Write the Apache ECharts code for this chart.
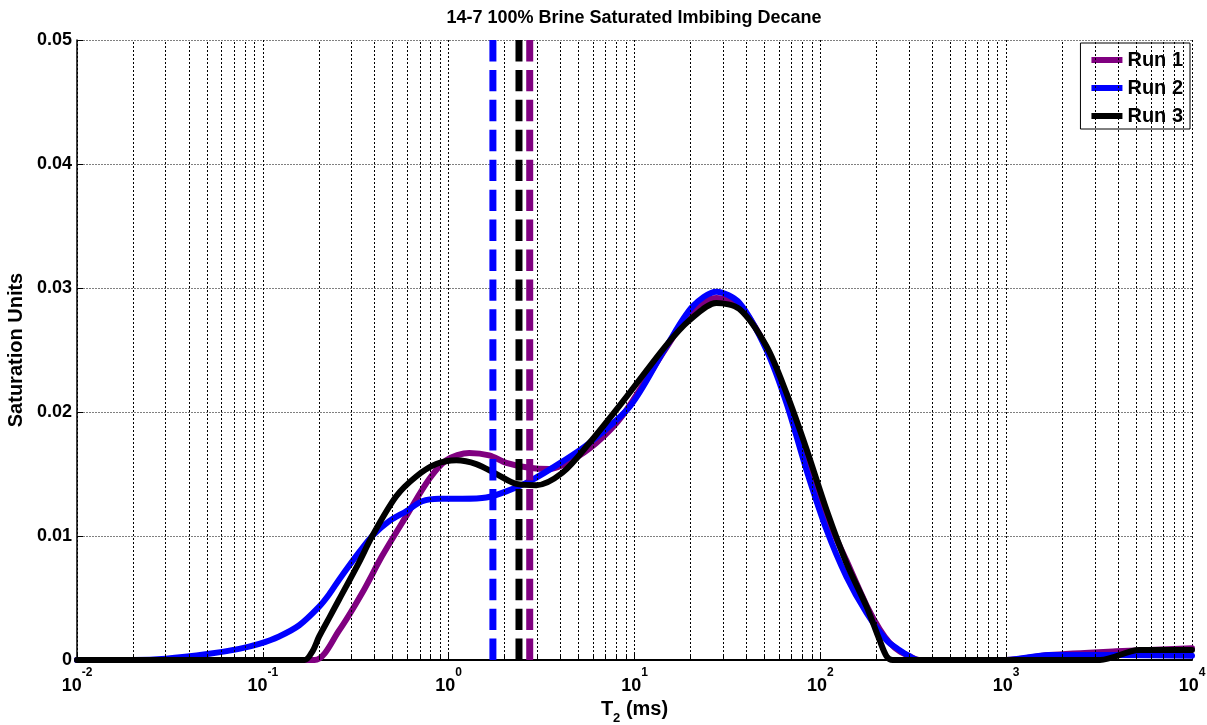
<!DOCTYPE html>
<html>
<head>
<meta charset="utf-8">
<script src="https://cdn.jsdelivr.net/npm/echarts@6/dist/echarts.min.js"></script>
<style>
html,body{margin:0;padding:0;background:#fff;}
#chart{width:1207px;height:725px;}
</style>
</head>
<body>
<div id="chart"></div>
<script>
// ---------------- data ----------------
const chartTitle = '14-7 100% Brine Saturated Imbibing Decane';
const runNames = ['Run 1', 'Run 2', 'Run 3'];
const runColors = ['#800080', '#0000ff', '#000000'];

// Run 1 (purple)
const t2Run1 = [0.01, 0.1, 0.19, 0.2577, 0.3424, 0.4388, 0.591, 0.786, 0.9707, 1.291, 1.654, 2.043, 2.716, 3.481, 4.461, 6.234, 8.605, 14.85, 20.5, 27.6, 36.7, 51.3, 65.8, 84.3, 108, 138.4, 177.4, 208.4, 235.9, 267, 302, 340, 1000, 1700, 3900, 10000];
const ampRun1 = [0, 0, 0, 0.0024, 0.0054, 0.0084, 0.0116, 0.0146, 0.0161, 0.0167, 0.0165, 0.0159, 0.0155, 0.0154, 0.0160, 0.0175, 0.0197, 0.0252, 0.0282, 0.0292, 0.0286, 0.0252, 0.0212, 0.0165, 0.0116, 0.0080, 0.0044, 0.0025, 0.0014, 0.0007, 0.0003, 0, 0, 0.0004, 0.0007, 0.00095];

// Run 2 (blue)
const t2Run2 = [0.01, 0.02, 0.03, 0.0514, 0.0745, 0.0955, 0.1224, 0.157, 0.201, 0.2276, 0.2577, 0.33, 0.3878, 0.4786, 0.591, 0.7207, 0.89, 1.184, 1.594, 2.043, 2.716, 4.09, 5.716, 9.5, 14.85, 20.5, 27.6, 36.7, 51.3, 65.8, 84.3, 108, 138.4, 177.4, 227.3, 267, 302, 340, 1000, 1700, 3900, 10000];
const ampRun2 = [0, 0, 0.0001, 0.0005, 0.0009, 0.0013, 0.0019, 0.0028, 0.0043, 0.0053, 0.0065, 0.0087, 0.0100, 0.0112, 0.0120, 0.0128, 0.0130, 0.0130, 0.0131, 0.0136, 0.0144, 0.0160, 0.0175, 0.0205, 0.0253, 0.0285, 0.0297, 0.0288, 0.0250, 0.0207, 0.0153, 0.0105, 0.0067, 0.0038, 0.0016, 0.0008, 0.0003, 0, 0, 0.0004, 0.0004, 0.00035];

// Run 3 (black)
const t2Run3 = [0.01, 0.1, 0.168, 0.185, 0.201, 0.2276, 0.2577, 0.33, 0.3878, 0.5222, 0.669, 0.8574, 1.099, 1.408, 1.804, 2.312, 2.963, 4.09, 5.716, 8.605, 14.85, 19.75, 27.6, 36.7, 51.3, 65.8, 84.3, 108, 138.4, 177.4, 208.4, 227.3, 245, 1000, 3200, 5200, 10000];
const ampRun3 = [0, 0, 0, 0.0007, 0.0019, 0.0034, 0.0049, 0.0079, 0.0100, 0.0132, 0.0148, 0.0158, 0.0161, 0.0158, 0.0150, 0.0142, 0.0141, 0.0151, 0.0175, 0.0208, 0.0254, 0.0274, 0.0288, 0.0283, 0.0253, 0.0215, 0.0170, 0.0121, 0.0078, 0.0043, 0.0016, 0.0003, 0, 0, 0, 0.0008, 0.0008];

// T2 cutoff (dashed vertical lines) for Run 1, Run 2, Run 3
const t2Cutoffs = [2.73, 1.73, 2.39];

// axis ticks
const xTickExponents = [-2, -1, 0, 1, 2, 3, 4];
const yTickLabels = ['0', '0.01', '0.02', '0.03', '0.04', '0.05'];
const yMin = 0, yMax = 0.05, yStep = 0.01;

// ---------------- chart ----------------
const FONT = "'Liberation Sans', Arial, Helvetica, sans-serif";
const t2Lists = [t2Run1, t2Run2, t2Run3];
const ampLists = [ampRun1, ampRun2, ampRun3];

// minor log gridlines 2..9 x 10^n
const minorT = [];
for (let i = 0; i < xTickExponents.length - 1; i++) {
  for (let m = 2; m <= 9; m++) minorT.push(m * Math.pow(10, xTickExponents[i]));
}

const series = [];
series.push({
  type: 'line', name: 'minorgrid', data: [], z: 1, silent: true,
  markLine: {
    silent: true, symbol: ['none', 'none'], animation: false,
    label: { show: false }, emphasis: { disabled: true },
    lineStyle: { color: '#000', type: [2, 2], width: 1 },
    data: minorT.map(t => ({ xAxis: t }))
  }
});
series.push({
  type: 'line', name: 'minorticks', data: [], z: 1, silent: true,
  markLine: {
    silent: true, symbol: ['none', 'none'], animation: false,
    label: { show: false }, emphasis: { disabled: true },
    lineStyle: { color: '#000', type: 'solid', width: 1 },
    data: minorT.map(t => [{ coord: [t, yMin] }, { coord: [t, yMin + (yMax - yMin) * 0.008] }])
  }
});

for (let i = 0; i < 3; i++) {
  series.push({
    name: runNames[i], type: 'line', z: 3,
    data: t2Lists[i].map((t, k) => [t, ampLists[i][k]]),
    showSymbol: false, symbol: 'none',
    smooth: 0.3,
    color: runColors[i],
    lineStyle: { width: 6, color: runColors[i], cap: 'round', join: 'round' },
    emphasis: { disabled: true }
  });
}
for (let i = 0; i < 3; i++) {
  series.push({
    name: runNames[i] + ' cutoff', type: 'line', z: 4,
    data: [[t2Cutoffs[i], yMax], [t2Cutoffs[i], yMin]],
    showSymbol: false, symbol: 'none',
    lineStyle: { width: 7, color: runColors[i], type: [21.4, 8.53], cap: 'butt' },
    emphasis: { disabled: true }
  });
}

const chart = echarts.init(document.getElementById('chart'), null, { renderer: 'canvas' });
chart.setOption({
  animation: false,
  backgroundColor: '#fff',
  textStyle: { fontFamily: FONT },
  grid: { left: 77, right: 15, top: 40, bottom: 65, containLabel: false, outerBoundsMode: 'none' },
  graphic: [{
    type: 'text', x: 634, y: 18,
    style: { text: chartTitle, fill: '#000', font: 'bold 18px ' + FONT, textAlign: 'center', textVerticalAlign: 'middle' }
  }],
  legend: {
    data: runNames.map((n, i) => ({ name: n, icon: 'rect', itemStyle: { color: runColors[i] } })),
    orient: 'vertical', right: 17, top: 43,
    itemWidth: 31, itemHeight: 6, itemGap: 8,
    backgroundColor: '#fff', borderColor: '#000', borderWidth: 1, borderRadius: 0,
    padding: [7, 7, 3, 11],
    textStyle: { color: '#000', fontWeight: 'bold', fontSize: 20, fontFamily: FONT, lineHeight: 20 },
    selectedMode: false
  },
  xAxis: {
    type: 'log', logBase: 10,
    min: Math.pow(10, xTickExponents[0]), max: Math.pow(10, xTickExponents[xTickExponents.length - 1]),
    splitNumber: xTickExponents.length - 1,
    name: '{t|T}{sub|2}{t| (ms)}',
    nameLocation: 'middle', nameGap: 33,
    nameTextStyle: {
      rich: {
        t: { fontSize: 20, fontWeight: 'bold', fontFamily: FONT, color: '#000', lineHeight: 20, verticalAlign: 'top' },
        sub: { fontSize: 13, fontWeight: 'bold', fontFamily: FONT, color: '#000', lineHeight: 13, padding: [12, 0, 0, 0], verticalAlign: 'top' }
      }
    },
    axisLine: { show: true, onZero: false, lineStyle: { color: '#000', width: 2 } },
    axisTick: { show: true, inside: true, length: 8, lineStyle: { color: '#000', width: 1 } },
    splitLine: { show: true, lineStyle: { color: '#000', type: [2, 2], width: 1 } },
    axisLabel: {
      margin: 17,
      formatter: function (v) {
        const e = Math.round(Math.log10(v));
        return xTickExponents.indexOf(e) >= 0 ? '{b|10}{s|' + e + '}' : '';
      },
      rich: {
        b: { fontSize: 18, fontWeight: 'bold', fontFamily: FONT, color: '#000', lineHeight: 18, verticalAlign: 'bottom' },
        s: { fontSize: 12, fontWeight: 'bold', fontFamily: FONT, color: '#000', lineHeight: 12, padding: [0, 0, 16, 0], verticalAlign: 'bottom' }
      }
    }
  },
  yAxis: {
    type: 'value', min: yMin, max: yMax, interval: yStep,
    name: 'Saturation Units', nameLocation: 'middle', nameGap: 50, nameRotate: 90,
    nameTextStyle: { fontSize: 20, fontWeight: 'bold', fontFamily: FONT, color: '#000' },
    axisLine: { show: true, lineStyle: { color: '#000', width: 1.5 } },
    axisTick: { show: true, inside: true, length: 6, lineStyle: { color: '#000', width: 1 } },
    splitLine: { show: true, lineStyle: { color: '#808080', type: [2, 1], width: 1 } },
    axisLabel: {
      margin: 5, fontSize: 18, fontWeight: 'bold', fontFamily: FONT, color: '#000',
      formatter: function (v) { return yTickLabels[Math.round((v - yMin) / yStep)]; }
    }
  },
  series: series
});
</script>
</body>
</html>
